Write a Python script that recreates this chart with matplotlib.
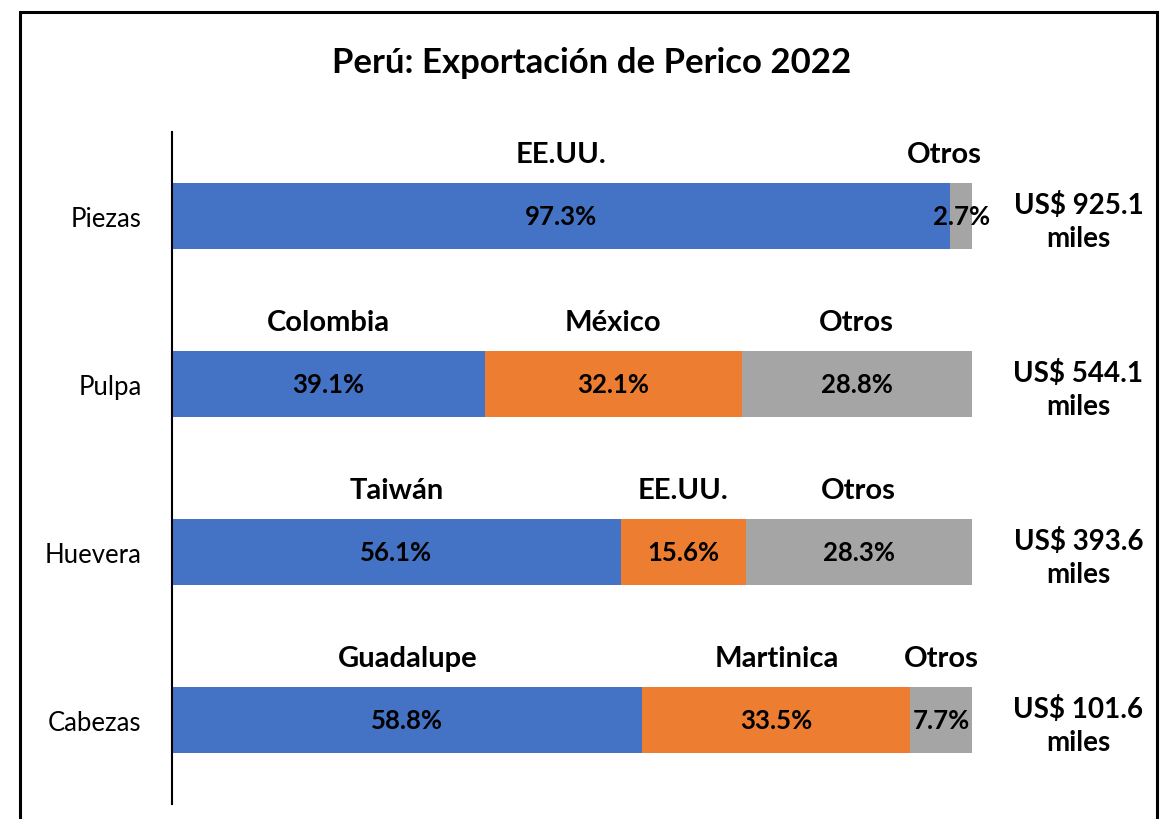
import matplotlib.pyplot as plt
from matplotlib.patches import Rectangle

# data
categories = ['Cabezas', 'Huevera', 'Pulpa', 'Piezas']
first_share = [58.8, 56.1, 39.1, 97.3]
second_share = [33.5, 15.6, 32.1, 0.0]
otros_share = [7.7, 28.3, 28.8, 2.7]
first_names = ['Guadalupe', 'Taiwán', 'Colombia', 'EE.UU.']
second_names = ['Martinica', 'EE.UU.', 'México', '']
otros_names = ['Otros', 'Otros', 'Otros', 'Otros']
totals = ['US$ 101.6\nmiles', 'US$ 393.6\nmiles', 'US$ 544.1\nmiles', 'US$ 925.1\nmiles']

COLORS = ['#4472C4', '#ED7D31', '#A5A5A5']
FONT = ['Lato', 'DejaVu Sans']


def configureFig():
    plt.rcParams['font.family'] = FONT
    fig = plt.figure(figsize=(11.66, 8.2), dpi=100)
    fig.set_facecolor('white')
    # outer chart frame
    frame = Rectangle((20 / 1166, -0.05), 1137 / 1166, 1.05 - 13 / 820,
                      transform=fig.transFigure, fill=False,
                      edgecolor='black', linewidth=2.2)
    fig.patches.append(frame)
    fig.text(592 / 1166, 1 - 63 / 820, 'Perú: Exportación de Perico 2022',
             ha='center', va='center', fontsize=25, fontweight='bold')
    return fig


def configureAx(fig):
    ax = fig.add_axes([172 / 1166, 1 - 805 / 820, 800 / 1166, 672 / 820])
    ax.set_xlim(0, 100)
    ax.set_ylim(-0.5, 3.5)
    for side in ['top', 'right', 'bottom']:
        ax.spines[side].set_visible(False)
    ax.spines['left'].set_linewidth(1.5)
    ax.set_xticks([])
    ax.set_yticks(range(len(categories)))
    ax.set_yticklabels(categories, fontsize=18.5)
    ax.tick_params(axis='y', length=0, pad=22)
    return ax


def main():
    fig = configureFig()
    ax = configureAx(fig)
    y = list(range(len(categories)))
    h = 0.39

    series = [first_share, second_share, otros_share]
    names = [first_names, second_names, otros_names]
    left = [0.0] * len(categories)
    for s, (vals, labs) in enumerate(zip(series, names)):
        ax.barh(y, vals, left=left, height=h, color=COLORS[s])
        for i, v in enumerate(vals):
            if v <= 0:
                continue
            cx = left[i] + v / 2
            ax.text(cx, y[i], '%.1f%%' % v, ha='center', va='center',
                    fontsize=18.5, fontweight='bold')
            ax.text(min(cx, 96.5), y[i] + 0.37, labs[i], ha='center',
                    va='center', fontsize=21, fontweight='bold')
        left = [l + v for l, v in zip(left, vals)]

    for i, t in enumerate(totals):
        ax.text(113.3, y[i] - 0.03, t, ha='center', va='center',
                fontsize=20, fontweight='bold', linespacing=1.35,
                clip_on=False)

    fig.savefig('out.png', dpi=100)


if __name__ == '__main__':
    main()
